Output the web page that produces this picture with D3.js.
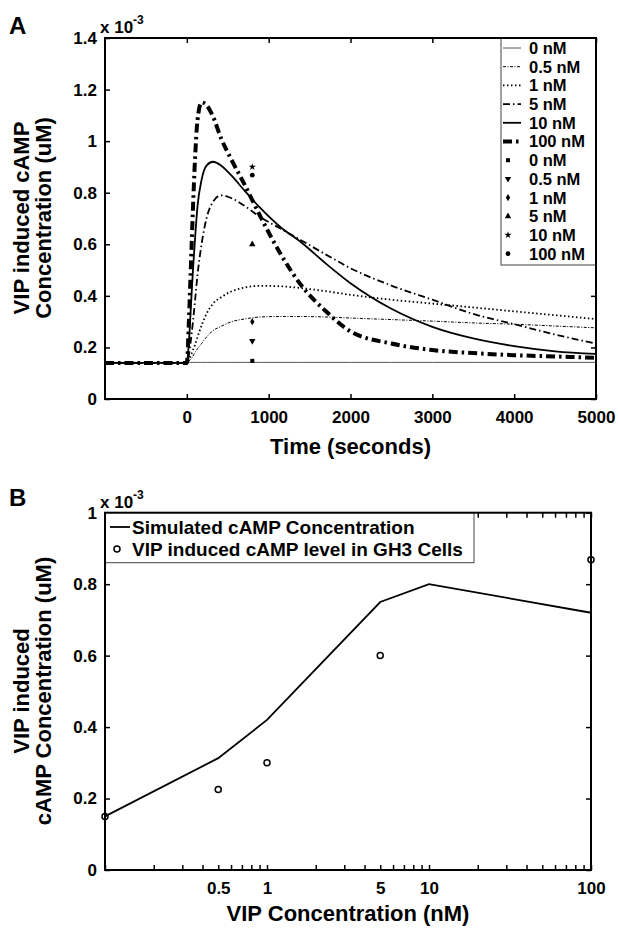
<!DOCTYPE html>
<html>
<head>
<meta charset="utf-8">
<script src="https://cdn.jsdelivr.net/npm/d3@7"></script>
<style>
  body { margin: 0; background: #fff; }
  svg { display: block; }
</style>
</head>
<body>
<div id="chart"></div>
<script>
// ---- Panel A data (cAMP in units of 1e-3 uM) ----
const timeA = [-1000, 0, 25, 50, 75, 100, 130, 180, 240, 320, 420, 550, 700, 900, 1150, 1400, 1700, 2000, 2500, 3000, 3500, 4000, 4500, 5000];
const sim0nM   = [0.142, 0.142, 0.142, 0.142, 0.142, 0.142, 0.142, 0.142, 0.142, 0.142, 0.142, 0.142, 0.142, 0.142, 0.142, 0.142, 0.142, 0.142, 0.142, 0.142, 0.142, 0.142, 0.142, 0.142];
const sim05nM  = [0.14, 0.14, 0.147, 0.155, 0.167, 0.18, 0.195, 0.215, 0.24, 0.265, 0.282, 0.30, 0.31, 0.318, 0.32, 0.32, 0.318, 0.314, 0.308, 0.302, 0.295, 0.29, 0.283, 0.276];
const sim1nM   = [0.14, 0.14, 0.155, 0.17, 0.19, 0.21, 0.24, 0.285, 0.33, 0.37, 0.395, 0.418, 0.432, 0.439, 0.437, 0.43, 0.418, 0.404, 0.385, 0.37, 0.355, 0.34, 0.325, 0.31];
const sim5nM   = [0.14, 0.14, 0.17, 0.23, 0.30, 0.38, 0.48, 0.60, 0.70, 0.765, 0.79, 0.778, 0.75, 0.705, 0.66, 0.615, 0.56, 0.507, 0.44, 0.385, 0.33, 0.29, 0.25, 0.215];
const sim10nM  = [0.14, 0.14, 0.22, 0.36, 0.50, 0.62, 0.746, 0.85, 0.905, 0.92, 0.905, 0.865, 0.81, 0.74, 0.665, 0.607, 0.525, 0.449, 0.35, 0.28, 0.235, 0.205, 0.185, 0.175];
const sim100nM = [0.14, 0.14, 0.30, 0.52, 0.74, 0.93, 1.08, 1.15, 1.14, 1.095, 1.01, 0.925, 0.835, 0.707, 0.56, 0.44, 0.34, 0.262, 0.215, 0.19, 0.178, 0.17, 0.165, 0.16];
const doseLabels = ['0 nM', '0.5 nM', '1 nM', '5 nM', '10 nM', '100 nM'];
const measuredTime = 800;
const measuredA = [0.148, 0.225, 0.30, 0.60, 0.90, 0.868];
const xTicksA = [0, 1000, 2000, 3000, 4000, 5000];
const yTicksA = [0, 0.2, 0.4, 0.6, 0.8, 1, 1.2, 1.4];
const yTickLabelsA = ['0', '0.2', '0.4', '0.6', '0.8', '1', '1.2', '1.4'];

// ---- Panel B data ----
const vipDose = [0.1, 0.5, 1, 5, 10, 100];
const simPeak = [0.150, 0.313, 0.42, 0.75, 0.80, 0.72];
const expDose = [0.1, 0.5, 1, 5, 100];
const expLevel = [0.15, 0.225, 0.30, 0.60, 0.868];
const xTicksB = [0.5, 1, 5, 10, 100];
const xTickLabelsB = ['0.5', '1', '5', '10', '100'];
const yTicksB = [0, 0.2, 0.4, 0.6, 0.8, 1];
const yTickLabelsB = ['0', '0.2', '0.4', '0.6', '0.8', '1'];

const FONT = '"Liberation Sans", Arial, sans-serif';
const W = 618, H = 928;

const svg = d3.select('#chart').append('svg')
  .attr('width', W).attr('height', H)
  .attr('font-family', FONT).attr('font-weight', 'bold');

function labelFor(ticks, labels) {
  return d => {
    const i = ticks.findIndex(v => Math.abs(v - d) < 1e-9 * Math.max(1, Math.abs(v)));
    return i < 0 ? '' : labels[i];
  };
}

function styleAxis(g) {
  g.attr('font-family', FONT).attr('font-size', 17).attr('font-weight', 'bold');
  g.select('.domain').remove();
  g.selectAll('.tick line').attr('stroke', '#000').attr('stroke-width', 1.5);
  g.selectAll('.tick text').attr('fill', '#000');
}

function drawAxes(x, y, xTickVals, xFmt, yTickVals, yFmt) {
  const [x0, x1] = x.range(), [y0, y1] = y.range();
  svg.append('g').attr('transform', `translate(0,${y0})`)
    .call(d3.axisBottom(x).tickValues(xTickVals).tickSize(-5).tickPadding(12).tickFormat(xFmt))
    .call(styleAxis);
  svg.append('g').attr('transform', `translate(0,${y1})`)
    .call(d3.axisTop(x).tickValues(xTickVals).tickSize(-5).tickFormat(''))
    .call(styleAxis);
  svg.append('g').attr('transform', `translate(${x0},0)`)
    .call(d3.axisLeft(y).tickValues(yTickVals).tickSize(-5).tickPadding(8).tickFormat(yFmt))
    .call(styleAxis);
  svg.append('g').attr('transform', `translate(${x1},0)`)
    .call(d3.axisRight(y).tickValues(yTickVals).tickSize(-5).tickFormat(''))
    .call(styleAxis);
}

function drawFrame(x, y) {
  const [x0, x1] = x.range(), [y0, y1] = y.range();
  svg.append('rect').attr('x', x0).attr('y', y1).attr('width', x1 - x0).attr('height', y0 - y1)
    .attr('fill', 'none').attr('stroke', '#000').attr('stroke-width', 2);
}

function exponentLabel(xPos, yPos) {
  const t = svg.append('text').attr('x', xPos).attr('y', yPos).attr('font-size', 17);
  t.append('tspan').text('x 10');
  t.append('tspan').attr('dy', -9).attr('font-size', 12).text('-3');
}

function yLabel(lines, cx, cy) {
  lines.forEach((s, i) => {
    svg.append('text')
      .attr('transform', `translate(${cx + i * 22},${cy}) rotate(-90)`)
      .attr('text-anchor', 'middle').attr('dy', '0.35em')
      .attr('font-size', 22).text(s);
  });
}

// ================= Panel A =================
const xA = d3.scaleLinear().domain([-1000, 5000]).range([105, 596]);
const yA = d3.scaleLinear().domain([0, 1.4]).range([399, 38]);

const seriesA = [sim0nM, sim05nM, sim1nM, sim5nM, sim10nM, sim100nM];
const styleA = [
  { w: 1, dash: null, color: '#555' },
  { w: 1, dash: '3,1.5,1,1.5', color: '#000' },
  { w: 1.8, dash: '1.5,2.5', color: '#000' },
  { w: 1.8, dash: '7,3,1.5,3', color: '#000' },
  { w: 1.8, dash: null, color: '#000' },
  { w: 4, dash: '9,4,2.5,4', color: '#000' }
];
const markerA = [
  { type: d3.symbolSquare, size: 16, rot: 0 },
  { type: d3.symbolTriangle, size: 18, rot: 180 },
  { type: d3.symbolDiamond, size: 16, rot: 0 },
  { type: d3.symbolTriangle, size: 18, rot: 0 },
  { type: d3.symbolStar, size: 16, rot: 0 },
  { type: d3.symbolCircle, size: 18, rot: 0 }
];

const lineA = d3.line().x((d, i) => xA(timeA[i])).y(d => yA(d)).curve(d3.curveMonotoneX);
seriesA.forEach((vals, k) => {
  svg.append('path').datum(vals).attr('d', lineA)
    .attr('fill', 'none').attr('stroke', styleA[k].color)
    .attr('stroke-width', styleA[k].w)
    .attr('stroke-dasharray', styleA[k].dash);
});

svg.selectAll('.mA').data(measuredA).join('path')
  .attr('class', 'mA')
  .attr('transform', (d, i) => `translate(${xA(measuredTime)},${yA(d)}) rotate(${markerA[i].rot})`)
  .attr('d', (d, i) => d3.symbol(markerA[i].type, markerA[i].size)())
  .attr('fill', '#000');

drawAxes(xA, yA, xTicksA, d3.format('d'), yTicksA, labelFor(yTicksA, yTickLabelsA));

// Legend A
const legA = { x: 501, y: 38, w: 95, h: 227, row0: 48, step: 18.7 };
svg.append('rect').attr('x', legA.x).attr('y', legA.y).attr('width', legA.w).attr('height', legA.h)
  .attr('fill', '#fff').attr('stroke', '#444').attr('stroke-width', 1);
doseLabels.forEach((lab, k) => {
  const yy = legA.row0 + k * legA.step;
  svg.append('line').attr('x1', 503).attr('x2', 521).attr('y1', yy).attr('y2', yy)
    .attr('stroke', styleA[k].color).attr('stroke-width', styleA[k].w)
    .attr('stroke-dasharray', styleA[k].dash);
  svg.append('text').attr('x', 529).attr('y', yy).attr('dy', '0.36em')
    .attr('font-size', 16.5).text(lab);
});
doseLabels.forEach((lab, k) => {
  const yy = legA.row0 + (k + 6) * legA.step;
  svg.append('path')
    .attr('transform', `translate(508,${yy}) rotate(${markerA[k].rot})`)
    .attr('d', d3.symbol(markerA[k].type, markerA[k].size)())
    .attr('fill', '#000');
  svg.append('text').attr('x', 529).attr('y', yy).attr('dy', '0.36em')
    .attr('font-size', 16.5).text(lab);
});

drawFrame(xA, yA);

svg.append('text').attr('x', 9).attr('y', 34).attr('font-size', 24).text('A');
exponentLabel(100, 33);
yLabel(['VIP induced cAMP', 'Concentration (uM)'], 21, 218);
svg.append('text').attr('x', (105 + 596) / 2).attr('y', 454)
  .attr('text-anchor', 'middle').attr('font-size', 22).text('Time (seconds)');

// ================= Panel B =================
const xB = d3.scaleLog().domain([0.1, 100]).range([105, 591]);
const yB = d3.scaleLinear().domain([0, 1]).range([870, 512.7]);

const lineB = d3.line().x((d, i) => xB(vipDose[i])).y(d => yB(d));
svg.append('path').datum(simPeak).attr('d', lineB)
  .attr('fill', 'none').attr('stroke', '#000').attr('stroke-width', 1.8);

svg.selectAll('.mB').data(expLevel).join('circle')
  .attr('class', 'mB')
  .attr('cx', (d, i) => xB(expDose[i])).attr('cy', d => yB(d))
  .attr('r', 3).attr('fill', 'none').attr('stroke', '#000').attr('stroke-width', 1.5);

const logTicks = xB.ticks();
drawAxes(xB, yB, logTicks, labelFor(xTicksB, xTickLabelsB), yTicksB, labelFor(yTicksB, yTickLabelsB));

// Legend B
svg.append('rect').attr('x', 105).attr('y', 512.7).attr('width', 369).attr('height', 50)
  .attr('fill', '#fff').attr('stroke', '#444').attr('stroke-width', 1);
svg.append('line').attr('x1', 110).attr('x2', 130).attr('y1', 527).attr('y2', 527)
  .attr('stroke', '#000').attr('stroke-width', 1.8);
svg.append('text').attr('x', 132).attr('y', 534).attr('font-size', 19).text('Simulated cAMP Concentration');
svg.append('circle').attr('cx', 117).attr('cy', 549).attr('r', 3)
  .attr('fill', 'none').attr('stroke', '#000').attr('stroke-width', 1.5);
svg.append('text').attr('x', 132).attr('y', 555.5).attr('font-size', 19).text('VIP induced cAMP level in GH3 Cells');

drawFrame(xB, yB);

svg.append('text').attr('x', 9).attr('y', 506).attr('font-size', 24).text('B');
exponentLabel(100, 508);
yLabel(['VIP induced', 'cAMP Concentration (uM)'], 21, 691);
svg.append('text').attr('x', (105 + 591) / 2).attr('y', 921)
  .attr('text-anchor', 'middle').attr('font-size', 22).text('VIP Concentration (nM)');
</script>
</body>
</html>
